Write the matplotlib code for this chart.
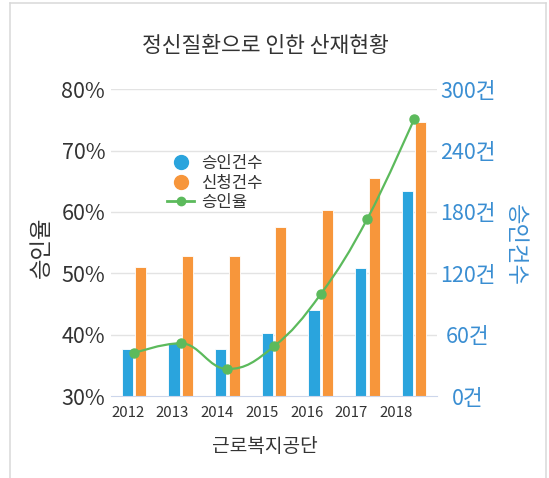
import numpy as np
import matplotlib
matplotlib.use("Agg")
import matplotlib.pyplot as plt
from matplotlib.path import Path
from matplotlib.patches import PathPatch
from matplotlib.lines import Line2D

plt.rcParams["font.family"] = ["Noto Sans CJK KR", "DejaVu Sans"]

# data
years = ["2012", "2013", "2014", "2015", "2016", "2017", "2018"]
approved = [46, 52, 46, 62, 84, 125, 201]       # 승인건수
applied = [126, 137, 137, 165, 182, 213, 268]   # 신청건수
rate = [37.0, 38.6, 34.4, 38.1, 46.6, 58.9, 75.1]  # 승인율 (%)
left_ticks = [30, 40, 50, 60, 70, 80]
right_ticks = [0, 60, 120, 180, 240, 300]

BLUE = "#2aa4dd"
ORANGE = "#f7963b"
GREEN = "#5cba5c"
AXIS_BLUE = "#3a8ed2"
TEXT = "#333333"


def spline_path(xs, ys, smoothing=1.5):
    '''Highcharts-style spline through the points, as bezier segments.'''
    n = len(xs)
    lc = [None] * n
    rc = [None] * n
    d = smoothing + 1
    for i in range(1, n - 1):
        px, py = xs[i], ys[i]
        lx, ly = xs[i - 1], ys[i - 1]
        nx, ny = xs[i + 1], ys[i + 1]
        lcx = (smoothing * px + lx) / d
        lcy = (smoothing * py + ly) / d
        rcx = (smoothing * px + nx) / d
        rcy = (smoothing * py + ny) / d
        corr = 0.0
        if rcx != lcx:
            corr = (rcy - lcy) * (rcx - px) / (rcx - lcx) + py - rcy
        lcy += corr
        rcy += corr
        if lcy > ly and lcy > py:
            lcy = max(ly, py)
            rcy = 2 * py - lcy
        elif lcy < ly and lcy < py:
            lcy = min(ly, py)
            rcy = 2 * py - lcy
        if rcy > ny and rcy > py:
            rcy = max(ny, py)
            lcy = 2 * py - rcy
        elif rcy < ny and rcy < py:
            rcy = min(ny, py)
            lcy = 2 * py - rcy
        lc[i] = (lcx, lcy)
        rc[i] = (rcx, rcy)
    verts = [(xs[0], ys[0])]
    codes = [Path.MOVETO]
    for i in range(1, n):
        verts.append(rc[i - 1] or (xs[i - 1], ys[i - 1]))
        verts.append(lc[i] or (xs[i], ys[i]))
        verts.append((xs[i], ys[i]))
        codes += [Path.CURVE4] * 3
    return Path(verts, codes)


fig = plt.figure(figsize=(5.49, 4.78), dpi=100)
ax = fig.add_axes([0.2017, 0.1715, 0.5949, 0.6417])
ax2 = ax.twinx()

x = np.arange(len(years))
w = 0.24
ax2.bar(x - 0.145, approved, w, color=BLUE, edgecolor="white", linewidth=0.6, zorder=2)
ax2.bar(x + 0.145, applied, w, color=ORANGE, edgecolor="white", linewidth=0.6, zorder=2)

ax.set_zorder(ax2.get_zorder() + 1)
ax.patch.set_visible(False)
ax.add_patch(PathPatch(spline_path(x, rate), facecolor="none", edgecolor=GREEN,
                       lw=1.6, zorder=3))
ax.plot(x, rate, "o", color=GREEN, markersize=6.5, zorder=4)

ax.set_xlim(-0.5, len(years) - 0.5)
ax.set_ylim(30, 80)
ax2.set_ylim(0, 300)

ax.set_yticks(left_ticks)
ax.set_yticklabels([f"{v}%" for v in left_ticks])
ax2.set_yticks(right_ticks)
ax2.set_yticklabels([f"{v}건" for v in right_ticks])
for lab in ax2.get_yticklabels():
    lab.set_horizontalalignment("center")

# year labels sit slightly left of the bar groups in the reference
ax.set_xticks(-0.135 + 0.959 * x)
ax.set_xticklabels(years)

ax.tick_params(axis="y", length=0, pad=4, labelsize=15.5, labelcolor=TEXT)
ax2.tick_params(axis="y", length=0, pad=22, labelsize=15.5, labelcolor=AXIS_BLUE)
ax.tick_params(axis="x", length=0, pad=7, labelsize=10.8, labelcolor=TEXT)

ax2.grid(False)
for v in right_ticks[1:]:
    ax2.axhline(v, color="#e3e3e3", lw=1, zorder=0)

for a in (ax, ax2):
    for s in a.spines.values():
        s.set_visible(False)
ax2.spines["bottom"].set_visible(True)
ax2.spines["bottom"].set_color("#ccd6eb")

fig.text(0.483, 0.904, "정신질환으로 인한 산재현황", ha="center", va="center",
         fontsize=15.5, color=TEXT)
fig.text(0.483, 0.065, "근로복지공단", ha="center", va="center", fontsize=13.8, color=TEXT)
fig.text(0.075, 0.483, "승인율", ha="center", va="center", rotation=90,
         fontsize=16, color=TEXT)
fig.text(0.938, 0.487, "승인건수", ha="center", va="center", rotation=270,
         fontsize=16, color=AXIS_BLUE)

handles = [
    Line2D([], [], ls="none", marker="o", markersize=10, color=BLUE),
    Line2D([], [], ls="none", marker="o", markersize=10, color=ORANGE),
    Line2D([], [], ls="-", lw=2, marker="o", markersize=6, color=GREEN),
]
fig.legend(handles, ["승인건수", "신청건수", "승인율"], loc="upper left",
           bbox_to_anchor=(159 / 549, 1 - 147 / 478), frameon=False,
           fontsize=12, borderpad=0, handlelength=1.6, handletextpad=0.45,
           labelspacing=0.15, labelcolor=TEXT)

# light frame around the chart (no bottom edge)
fx0, fx1, fy1 = 10 / 549, 545.5 / 549, 1 - 3 / 478
frame = dict(color="#d9d9d9", lw=1.1, transform=fig.transFigure)
fig.add_artist(Line2D([fx0, fx0], [0, fy1], **frame))
fig.add_artist(Line2D([fx0, fx1], [fy1, fy1], **frame))
fig.add_artist(Line2D([fx1, fx1], [0, fy1], **frame))

fig.savefig("out.png", dpi=100)
